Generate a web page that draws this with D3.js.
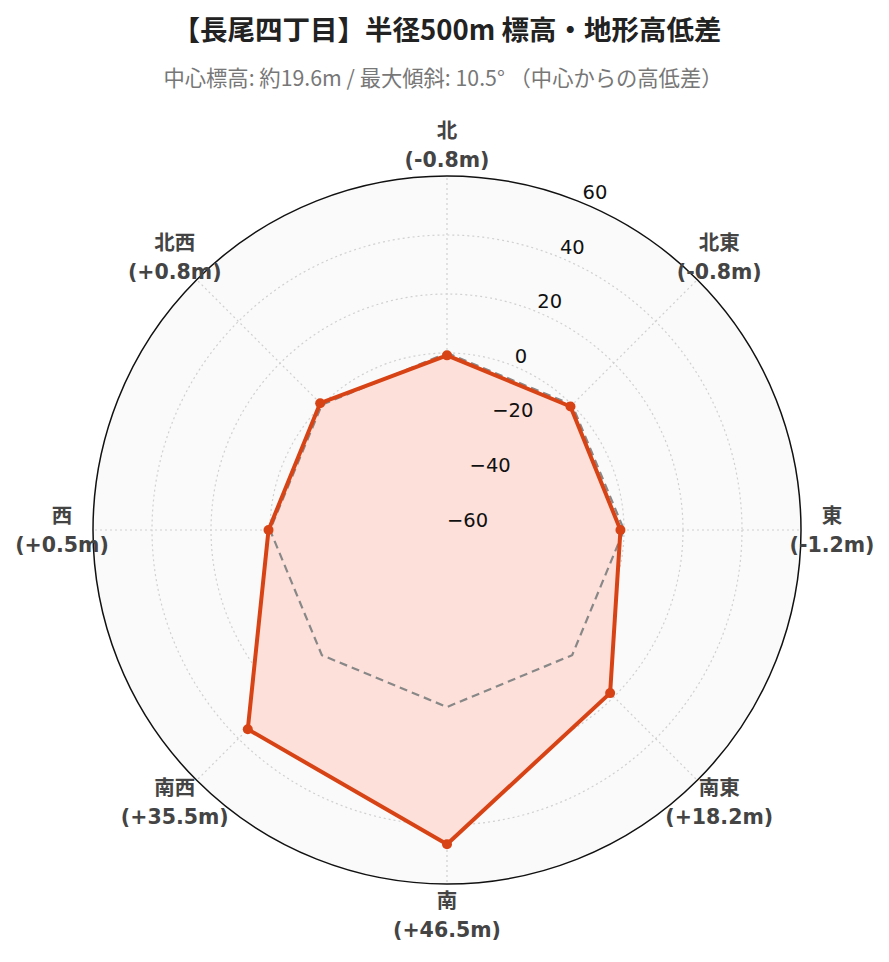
<!DOCTYPE html>
<html><head><meta charset="utf-8">
<script src="https://cdn.jsdelivr.net/npm/d3@7"></script>
<style>body{margin:0;background:#fff;} svg{display:block;}</style>
</head><body>
<div id="chart"></div>
<script>
const directions = ["北","北東","東","南東","南","南西","西","北西"];
const diffValues = [-0.8, -0.8, -1.2, 18.2, 46.5, 35.5, 0.5, 0.8];
const referenceValues = [0, 0, 0, 0, 0, 0, 0, 0];
const radialTicks = [-60, -40, -20, 0, 20, 40, 60];
const titleText = "【長尾四丁目】半径500m 標高・地形高低差";
const subtitleText = "中心標高: 約19.6m / 最大傾斜: 10.5°  （中心からの高低差）";

const W = 889, H = 962, cx = 447, cy = 530, R = 354;
const svg = d3.select("#chart").append("svg").attr("width", W).attr("height", H);
const FONT = "'DejaVu Sans','Noto Sans CJK JP',sans-serif";
const CJK = "'Noto Sans CJK JP',sans-serif";

svg.append("text").attr("x", 447).attr("y", 28).attr("text-anchor","middle").attr("dominant-baseline","central")
  .attr("font-family", CJK).attr("font-weight","bold").attr("font-size", 27.5).attr("fill","#222").text(titleText);
svg.append("text").attr("x", 443).attr("y", 76).attr("text-anchor","middle").attr("dominant-baseline","central")
  .attr("font-family", CJK).attr("font-size", 21.3).attr("fill","#777").text(subtitleText);

const r = d3.scaleLinear().domain([-60, 60]).range([0, R]);
const ang = d3.scalePoint().domain(directions).range([0, 2*Math.PI*7/8]);
const g = svg.append("g").attr("transform", `translate(${cx},${cy})`);
const px = (a, rr) => rr*Math.sin(a), py = (a, rr) => -rr*Math.cos(a);

g.append("circle").attr("r", R).attr("fill", "#fafafa");
radialTicks.filter(t => t > -60 && t < 60).forEach(t => {
  g.append("circle").attr("r", r(t)).attr("fill","none").attr("stroke","#d0d0d0").attr("stroke-width",1.2).attr("stroke-dasharray","2,3");
});
directions.forEach(d => {
  const a = ang(d);
  g.append("line").attr("x1",0).attr("y1",0).attr("x2",px(a,R)).attr("y2",py(a,R))
    .attr("stroke","#d0d0d0").attr("stroke-width",1.2).attr("stroke-dasharray","2,3");
});
g.append("circle").attr("r", R).attr("fill","none").attr("stroke","#111").attr("stroke-width",1.5);

const radial = d3.lineRadial().angle((d,i)=>ang(directions[i])).radius(d=>r(d)).curve(d3.curveLinearClosed);
g.append("path").attr("d", radial(diffValues)).attr("fill","#fde0d9").attr("stroke","none");
g.append("path").attr("d", radial(referenceValues)).attr("fill","none").attr("stroke","#888").attr("stroke-width",2.2).attr("stroke-dasharray","8,5");
g.append("path").attr("d", radial(diffValues)).attr("fill","none").attr("stroke","#d84315").attr("stroke-width",4).attr("stroke-linejoin","round");
g.selectAll("circle.pt").data(diffValues).enter().append("circle").attr("class","pt")
  .attr("cx",(d,i)=>px(ang(directions[i]), r(d))).attr("cy",(d,i)=>py(ang(directions[i]), r(d)))
  .attr("r",5).attr("fill","#d84315");

// radial tick labels along 22.5°
const tickAng = Math.PI/8;
radialTicks.forEach(t => {
  g.append("text").attr("x", px(tickAng, r(t))).attr("y", py(tickAng, r(t)) - 10)
    .attr("dominant-baseline","central").attr("font-family", FONT).attr("font-size", 19.5).attr("fill","#111")
    .text(t < 0 ? "\u2212" + Math.abs(t) : String(t));
});

// angular labels
const fmt = v => (v > 0 ? "+" : v < 0 ? "-" : "") + Math.abs(v).toFixed(1) + "m";
directions.forEach((d,i) => {
  const a = ang(d), LR = 385;
  const x = px(a, LR), y = py(a, LR);
  const t = g.append("text").attr("text-anchor","middle").attr("font-family", FONT).attr("font-weight","bold")
    .attr("font-size", 20.5).attr("fill","#444");
  t.append("tspan").attr("x", x).attr("y", y - 14.5).attr("dominant-baseline","central").text(d);
  t.append("tspan").attr("x", x).attr("y", y + 14.5).attr("dominant-baseline","central").text("(" + fmt(diffValues[i]) + ")");
});
</script>
</body></html>
